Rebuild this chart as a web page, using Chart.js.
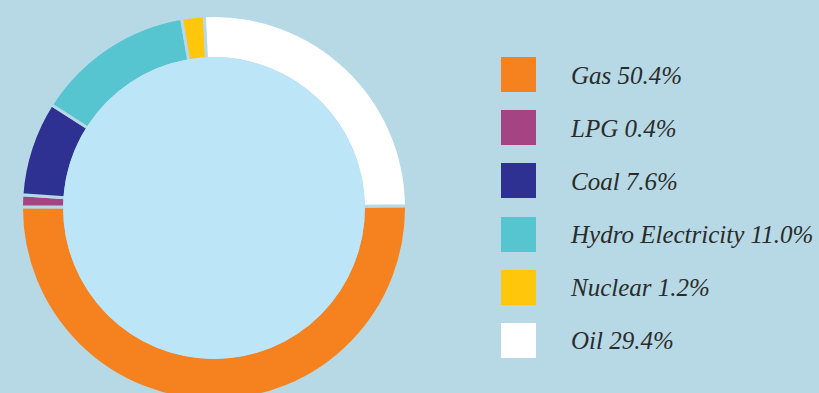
<!DOCTYPE html>
<html>
<head>
<meta charset="utf-8">
<script src="https://cdn.jsdelivr.net/npm/chart.js@4/dist/chart.umd.min.js"></script>
<style>
  html, body { margin: 0; padding: 0; }
  body { width: 819px; height: 393px; overflow: hidden; background: #b6d9e5; position: relative; }
  #wrap { position: absolute; left: 0; top: 0; width: 819px; height: 393px; overflow: hidden; }
  #c { position: absolute; }
  #legend { position: absolute; left: 501px; top: 57px; margin: 0; padding: 0; list-style: none; }
  #legend li { position: relative; height: 53.2px; }
  #legend .box { position: absolute; left: 0; top: 0; width: 35px; height: 35px; }
  #legend .txt { position: absolute; left: 70px; top: 17.5px; transform: translateY(-50%); white-space: nowrap;
    font-family: "Liberation Serif", "DejaVu Serif", serif; font-style: italic; font-size: 25px; color: #2b2b2b; line-height: 1; }
</style>
</head>
<body>
<div id="wrap">
  <canvas id="c"></canvas>
  <ul id="legend"></ul>
</div>
<script>
// Categories and legend text values
const categories = ["Gas", "LPG", "Coal", "Hydro Electricity", "Nuclear", "Oil"];
const legendPercents = [50.4, 0.4, 7.6, 11.0, 1.2, 29.4];
// Slice sizes as drawn in the picture (share of the ring, %)
const sliceValues = [50.3, 1.0, 7.9, 13.3, 1.9, 25.6];
const sliceColors = ["#f5821f", "#a54483", "#2e3192", "#56c5d0", "#ffc60b", "#ffffff"];

const BG = "#b6d9e5";
const INNER = "#bce5f8";

const canvas = document.getElementById("c");
const size = 388;
const cx = 214, cy = 207.7;
canvas.width = size; canvas.height = size;
canvas.style.width = size + "px"; canvas.style.height = size + "px";
canvas.style.left = (cx - size / 2) + "px";
canvas.style.top = (cy - size / 2) + "px";

const innerFill = {
  id: "innerFill",
  afterDatasetsDraw(chart) {
    const arc = chart.getDatasetMeta(0).data[0];
    if (!arc) return;
    const ctx = chart.ctx;
    ctx.save();
    ctx.beginPath();
    ctx.arc(arc.x, arc.y, arc.innerRadius + 1.5, 0, Math.PI * 2);
    ctx.fillStyle = INNER;
    ctx.fill();
    ctx.restore();
  }
};

new Chart(canvas, {
  type: "doughnut",
  data: {
    labels: categories,
    datasets: [{
      data: sliceValues,
      backgroundColor: sliceColors,
      borderColor: BG,
      borderWidth: 3,
      hoverOffset: 0
    }]
  },
  options: {
    responsive: false,
    maintainAspectRatio: false,
    animation: false,
    rotation: 89.3,
    cutout: "77.6%",
    layout: { padding: 0 },
    plugins: { legend: { display: false }, tooltip: { enabled: false } }
  },
  plugins: [innerFill]
});

const ul = document.getElementById("legend");
categories.forEach((name, i) => {
  const li = document.createElement("li");
  const box = document.createElement("span");
  box.className = "box";
  box.style.background = sliceColors[i];
  const txt = document.createElement("span");
  txt.className = "txt";
  txt.textContent = name + " " + legendPercents[i].toFixed(1) + "%";
  li.appendChild(box); li.appendChild(txt);
  ul.appendChild(li);
});
</script>
</body>
</html>
